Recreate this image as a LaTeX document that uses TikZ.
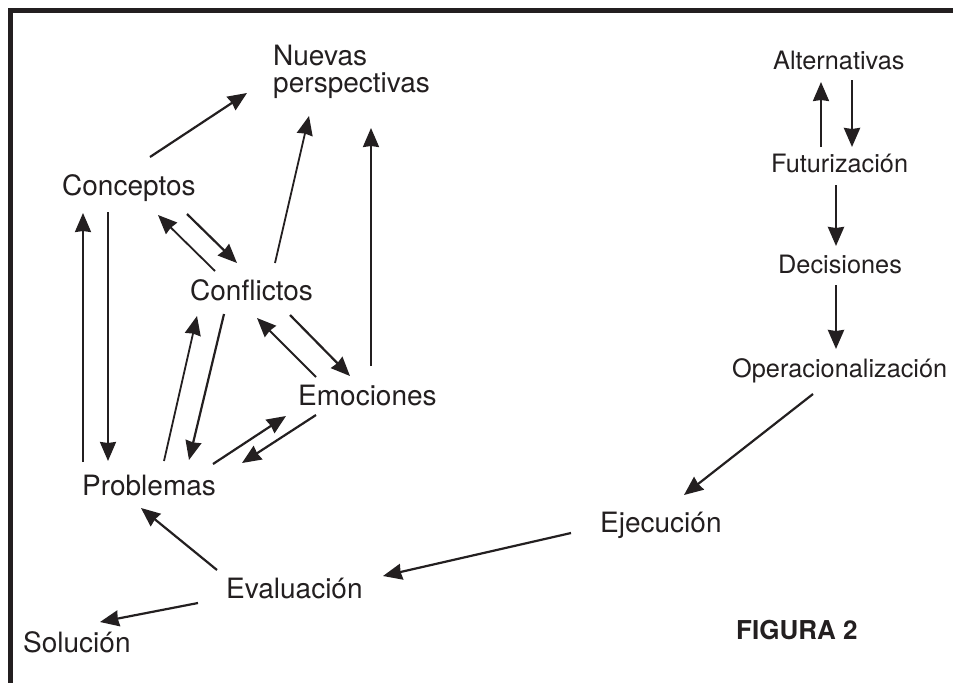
\documentclass[tikz,border=0pt]{standalone}
\usepackage{fontspec}
\setmainfont{TeX Gyre Heros}
\usetikzlibrary{arrows.meta}
\definecolor{ink}{RGB}{35,31,32}
\begin{document}
\begin{tikzpicture}[x=1pt,y=-1pt,
  lbl/.style={anchor=base west, inner sep=0pt, text=ink, font=\fontsize{28}{27}\selectfont},
  rlbl/.style={lbl, font=\fontsize{25.3}{27}\selectfont},
  figlbl/.style={lbl, font=\fontsize{26}{27}\selectfont\bfseries},
  arr/.style={draw=ink, line width=2.2pt, -{Stealth[length=19pt,width=16pt,inset=1pt]}},
  thickarr/.style={arr, line width=2.8pt},
  frame/.style={draw=ink, line width=5pt, line join=miter}]
\useasboundingbox (0,0) rectangle (953,683);
\fill[white] (0,0) rectangle (953,683);
\draw[frame] (953,10.8) -- (10.8,10.8) -- (10.8,683);

% labels
\node[lbl, anchor=north west, align=left] (nue) at (273,45) {Nuevas\\perspectivas};
\node[lbl] (con) at (62,195) {Conceptos};
\node[lbl] (cfl) at (190,300) {Conflictos};
\node[lbl] (emo) at (298,405) {Emociones};
\node[lbl] (pro) at (82,495) {Problemas};
\node[lbl] (eva) at (226,598) {Evaluación};
\node[lbl] (sol) at (23,652) {Solución};
\node[lbl] (eje) at (600,532) {Ejecución};
\node[rlbl] (alt) at (773,69) {Alternativas};
\node[rlbl] (fut) at (771,172) {Futurización};
\node[rlbl] (dec) at (778,273) {Decisiones};
\node[rlbl] (ope) at (732,377) {Operacionalización};
\node[figlbl] (fig) at (736,639) {FIGURA 2};

% connectors
\draw[arr] ([shift={(88,-38)}]con.base west) -- ([shift={(-26,48)}]nue.north west);
\draw[arr, line width=1.8pt] ([shift={(85,-37)}]cfl.base west) -- ([shift={(36,71)}]nue.north west);
\draw[arr] ([shift={(73,-39)}]emo.base west) -- ([shift={(98,83)}]nue.north west);
\draw[arr] ([shift={(46,17)}]con.base west) -- ([shift={(26,-34)}]pro.base west);
\draw[arr] ([shift={(1,-33)}]pro.base west) -- ([shift={(21,18)}]con.base west);
\draw[arr, line width=1.8pt] ([shift={(25,-29)}]cfl.base west) -- ([shift={(96,20)}]con.base west);
\draw[arr] ([shift={(125,19)}]con.base west) -- ([shift={(47,-37)}]cfl.base west);
\draw[arr] ([shift={(34,14)}]cfl.base west) -- ([shift={(107,-35)}]pro.base west);
\draw[arr, line width=1.8pt] ([shift={(82,-34)}]pro.base west) -- ([shift={(7,16)}]cfl.base west);
\draw[arr, line width=1.8pt] ([shift={(18,-28)}]emo.base west) -- ([shift={(67,18)}]cfl.base west);
\draw[arr] ([shift={(100,15)}]cfl.base west) -- ([shift={(52,-29)}]emo.base west);
\draw[arr] ([shift={(131,-31)}]pro.base west) -- ([shift={(-12,11)}]emo.base west);
\draw[arr] ([shift={(18,10)}]emo.base west) -- ([shift={(160,-32)}]pro.base west);
\draw[arr] ([shift={(-9,-28)}]eva.base west) -- ([shift={(59,13)}]pro.base west);
\draw[arr] ([shift={(-28,5)}]eva.base west) -- ([shift={(77,-30)}]sol.base west);
\draw[arr] ([shift={(-29,1)}]eje.base west) -- ([shift={(157,-22)}]eva.base west);
\draw[arr] ([shift={(81,17)}]ope.base west) -- ([shift={(84,-37)}]eje.base west);
\draw[arr] ([shift={(50,-25)}]fut.base west) -- ([shift={(48,13)}]alt.base west);
\draw[thickarr] ([shift={(79,11)}]alt.base west) -- ([shift={(81,-25)}]fut.base west);
\draw[thickarr] ([shift={(65,13)}]fut.base west) -- ([shift={(58,-27)}]dec.base west);
\draw[thickarr] ([shift={(58,12)}]dec.base west) -- ([shift={(104,-28)}]ope.base west);
\end{tikzpicture}
\end{document}
